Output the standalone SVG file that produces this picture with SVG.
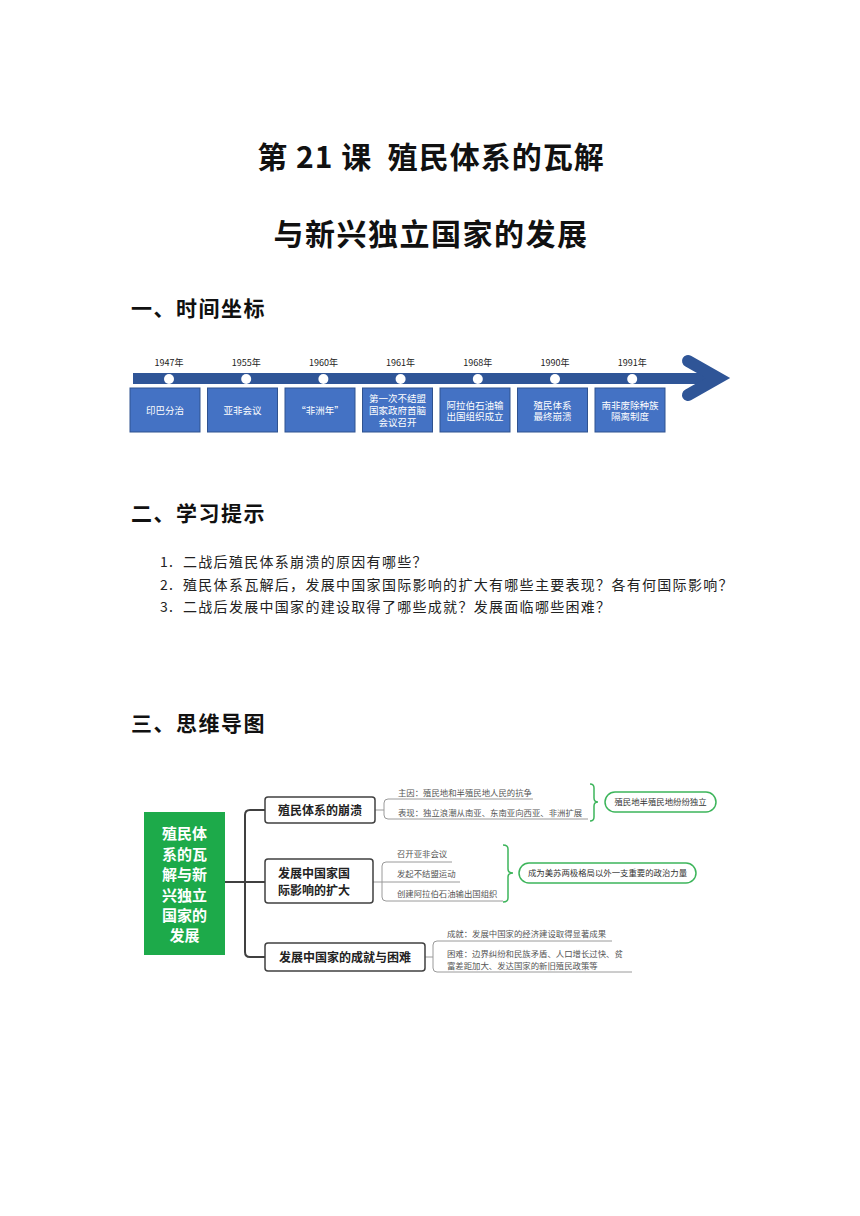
<svg xmlns="http://www.w3.org/2000/svg" width="860" height="1216" viewBox="0 0 860 1216">
<defs>
<style>
text{font-family:"Noto Sans CJK SC","Liberation Sans",sans-serif;}
.title{font-size:30px;font-weight:bold;fill:#111;text-anchor:middle;letter-spacing:1.5px;}
.h{font-size:21px;font-weight:bold;fill:#111;letter-spacing:1.5px;}
.li{font-size:14px;fill:#222;letter-spacing:1.3px;}
.yr{font-size:9px;fill:#222;text-anchor:middle;}
.tb{fill:#4472C4;stroke:#2F528F;stroke-width:1;}
.tt{font-size:9.5px;fill:#fff;text-anchor:middle;}
.dot{fill:#fff;}
.bar{fill:#2F5597;}
.mb{fill:#fff;stroke:#404040;stroke-width:1.5;}
.mt{font-size:12px;font-weight:bold;fill:#222;}
.ct{font-size:15px;font-weight:bold;fill:#fff;text-anchor:middle;}
.st{font-size:8.4px;fill:#555;}
.pill{fill:#fff;stroke:#3DB55B;stroke-width:1.5;}
.pt{font-size:8.4px;fill:#333;text-anchor:middle;}
.trunk{fill:none;stroke:#404040;stroke-width:2;}
.sub{fill:none;stroke:#9a9a9a;stroke-width:1;}
.brace{fill:none;stroke:#3DB55B;stroke-width:1.5;}
</style>
</defs>
<rect width="860" height="1216" fill="#fff"/>

<g id="title">
<text class="title" x="431" y="168" xml:space="preserve" style="letter-spacing:1px">第 21 课  殖民体系的瓦解</text>
<text class="title" x="431" y="245">与新兴独立国家的发展</text>
</g>

<g id="headings">
<text class="h" x="131" y="315.5">一、时间坐标</text>
<text class="h" x="131" y="520.5">二、学习提示</text>
<text class="h" x="131" y="731">三、思维导图</text>
</g>

<g id="timeline">
<rect class="bar" x="133" y="373" width="580" height="11"/>
<polyline points="688,361 718,378 688,395" fill="none" stroke="#2F5597" stroke-width="12" stroke-linejoin="miter" stroke-linecap="round"/>
<g id="t1"><circle class="dot" cx="169" cy="379" r="5"/><text class="yr" x="169" y="366">1947年</text><rect class="tb" x="130" y="388" width="70" height="44"/><text class="tt" x="165" y="413.6">印巴分治</text></g>
<g id="t2"><circle class="dot" cx="246.2" cy="379" r="5"/><text class="yr" x="246.2" y="366">1955年</text><rect class="tb" x="207.5" y="388" width="70" height="44"/><text class="tt" x="242.5" y="413.6">亚非会议</text></g>
<g id="t3"><circle class="dot" cx="323.4" cy="379" r="5"/><text class="yr" x="323.4" y="366">1960年</text><rect class="tb" x="285" y="388" width="70" height="44"/><text class="tt" x="320" y="413.6">“非洲年”</text></g>
<g id="t4"><circle class="dot" cx="400.6" cy="379" r="5"/><text class="yr" x="400.6" y="366">1961年</text><rect class="tb" x="362.5" y="388" width="70" height="44"/><text class="tt" x="397.5" y="401.6">第一次不结盟</text><text class="tt" x="397.5" y="413.6">国家政府首脑</text><text class="tt" x="397.5" y="425.6">会议召开</text></g>
<g id="t5"><circle class="dot" cx="477.8" cy="379" r="5"/><text class="yr" x="477.8" y="366">1968年</text><rect class="tb" x="440" y="388" width="70" height="44"/><text class="tt" x="475" y="408.6">阿拉伯石油输</text><text class="tt" x="475" y="420.3">出国组织成立</text></g>
<g id="t6"><circle class="dot" cx="555" cy="379" r="5"/><text class="yr" x="555" y="366">1990年</text><rect class="tb" x="517.5" y="388" width="70" height="44"/><text class="tt" x="552.5" y="408.6">殖民体系</text><text class="tt" x="552.5" y="420.3">最终崩溃</text></g>
<g id="t7"><circle class="dot" cx="632.2" cy="379" r="5"/><text class="yr" x="632.2" y="366">1991年</text><rect class="tb" x="595" y="388" width="70" height="44"/><text class="tt" x="630" y="408.6">南非废除种族</text><text class="tt" x="630" y="420.3">隔离制度</text></g>
</g>

<g id="list">
<text class="li" x="160" y="567">1.</text><text class="li" x="183" y="567">二战后殖民体系崩溃的原因有哪些？</text>
<text class="li" x="160" y="590">2.</text><text class="li" x="183" y="590">殖民体系瓦解后，发展中国家国际影响的扩大有哪些主要表现？各有何国际影响？</text>
<text class="li" x="160" y="612">3.</text><text class="li" x="183" y="612">二战后发展中国家的建设取得了哪些成就？发展面临哪些困难？</text>
</g>

<g id="connectors">
<path class="trunk" d="M225 882H245M265 810H250Q245 810 245 815V952Q245 957 250 957H265M245 882H265"/>
<path class="sub" d="M375 810H384M533 799H388Q384 799 384 803V815Q384 819 388 819H588"/>
<path class="sub" d="M373 882H460M452 862H386Q382 862 382 866V897Q382 901 386 901H503"/>
<path class="sub" d="M423 957H433M612 941H437Q433 941 433 945V968Q433 972 437 972H632"/>
<path class="brace" d="M590 784Q594 784 594 788V798Q594 802 598 802Q594 802 594 806V817Q594 821 590 821"/>
<path class="brace" d="M503 845Q508 845 508 849V869Q508 873 513 873Q508 873 508 877V898Q508 902 503 902"/>
</g>

<g id="center">
<rect x="144" y="812" width="81" height="143" fill="#1DAA4A"/>
<text class="ct" x="184.5" y="838.7">殖民体</text>
<text class="ct" x="184.5" y="859.7">系的瓦</text>
<text class="ct" x="184.5" y="879.7">解与新</text>
<text class="ct" x="184.5" y="900.7">兴独立</text>
<text class="ct" x="184.5" y="920.7">国家的</text>
<text class="ct" x="184.5" y="940.7">发展</text>
</g>

<g id="b1">
<rect class="mb" x="265" y="797" width="110" height="26" rx="3"/>
<text class="mt" x="320" y="814.5" text-anchor="middle">殖民体系的崩溃</text>
</g>
<g id="b2">
<rect class="mb" x="265" y="859" width="108" height="44" rx="3"/>
<text class="mt" x="278" y="877.5">发展中国家国</text>
<text class="mt" x="278" y="894.5">际影响的扩大</text>
</g>
<g id="b3">
<rect class="mb" x="265" y="943" width="160" height="28" rx="3"/>
<text class="mt" x="345" y="961.5" text-anchor="middle">发展中国家的成就与困难</text>
</g>

<g id="leaves">
<text class="st" x="398" y="796">主因：殖民地和半殖民地人民的抗争</text>
<text class="st" x="398" y="816">表现：独立浪潮从南亚、东南亚向西亚、非洲扩展</text>
<text class="st" x="397" y="856.5">召开亚非会议</text>
<text class="st" x="397" y="876.5">发起不结盟运动</text>
<text class="st" x="397" y="896.5">创建阿拉伯石油输出国组织</text>
<text class="st" x="447" y="936.5">成就：发展中国家的经济建设取得显著成果</text>
<text class="st" x="447" y="956.5">困难：边界纠纷和民族矛盾、人口增长过快、贫</text>
<text class="st" x="447" y="969.2">富差距加大、发达国家的新旧殖民政策等</text>
</g>

<g id="p1">
<rect class="pill" x="605" y="792" width="111" height="20" rx="10"/>
<text class="pt" x="660.5" y="805.2">殖民地半殖民地纷纷独立</text>
</g>
<g id="p2">
<rect class="pill" x="519" y="863" width="177" height="20" rx="10"/>
<text class="pt" x="607.5" y="876.2">成为美苏两极格局以外一支重要的政治力量</text>
</g>
</svg>
